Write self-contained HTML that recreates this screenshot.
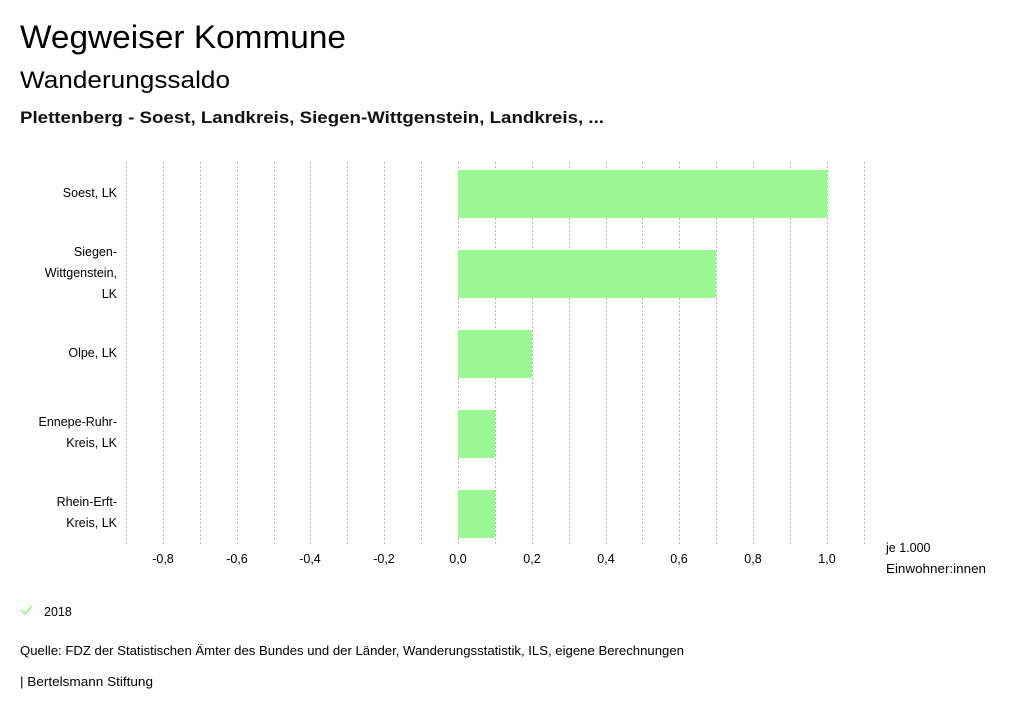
<!DOCTYPE html>
<html><head><meta charset="utf-8"><style>
body{margin:0;background:#fff;width:1024px;height:714px;overflow:hidden;font-family:"Liberation Sans","DejaVu Sans",sans-serif;color:#000}
</style></head><body>
<svg width="1024" height="714" xmlns="http://www.w3.org/2000/svg" font-family="Liberation Sans, DejaVu Sans, sans-serif">
<text x="20" y="48" font-size="32" textLength="326" lengthAdjust="spacingAndGlyphs">Wegweiser Kommune</text>
<text x="20" y="88" font-size="24" textLength="210" lengthAdjust="spacingAndGlyphs">Wanderungssaldo</text>
<text x="20" y="123" font-size="17" font-weight="bold" textLength="584" lengthAdjust="spacingAndGlyphs" fill="#111">Plettenberg - Soest, Landkreis, Siegen-Wittgenstein, Landkreis, ...</text>
<g stroke="#bbb" stroke-width="1" stroke-dasharray="2,2">
<line x1="126.5" y1="162" x2="126.5" y2="545"/>
<line x1="163.5" y1="162" x2="163.5" y2="545"/>
<line x1="200.5" y1="162" x2="200.5" y2="545"/>
<line x1="237.5" y1="162" x2="237.5" y2="545"/>
<line x1="274.5" y1="162" x2="274.5" y2="545"/>
<line x1="310.5" y1="162" x2="310.5" y2="545"/>
<line x1="347.5" y1="162" x2="347.5" y2="545"/>
<line x1="384.5" y1="162" x2="384.5" y2="545"/>
<line x1="421.5" y1="162" x2="421.5" y2="545"/>
<line x1="458.5" y1="162" x2="458.5" y2="545"/>
<line x1="495.5" y1="162" x2="495.5" y2="545"/>
<line x1="532.5" y1="162" x2="532.5" y2="545"/>
<line x1="569.5" y1="162" x2="569.5" y2="545"/>
<line x1="606.5" y1="162" x2="606.5" y2="545"/>
<line x1="642.5" y1="162" x2="642.5" y2="545"/>
<line x1="679.5" y1="162" x2="679.5" y2="545"/>
<line x1="716.5" y1="162" x2="716.5" y2="545"/>
<line x1="753.5" y1="162" x2="753.5" y2="545"/>
<line x1="790.5" y1="162" x2="790.5" y2="545"/>
<line x1="827.5" y1="162" x2="827.5" y2="545"/>
<line x1="864.5" y1="162" x2="864.5" y2="545"/>
</g>
<g fill="#9cf894">
<rect x="458" y="170" width="369" height="48"/>
<rect x="458" y="250" width="258" height="48"/>
<rect x="458" y="330" width="74" height="48"/>
<rect x="458" y="410" width="37" height="48"/>
<rect x="458" y="490" width="37" height="48"/>
</g>
<g font-size="12.5" text-anchor="end">
<text x="117" y="197">Soest, LK</text>
<text x="117" y="256">Siegen-</text>
<text x="117" y="277">Wittgenstein,</text>
<text x="117" y="298">LK</text>
<text x="117" y="357">Olpe, LK</text>
<text x="117" y="426">Ennepe-Ruhr-</text>
<text x="117" y="447">Kreis, LK</text>
<text x="117" y="506">Rhein-Erft-</text>
<text x="117" y="527">Kreis, LK</text>
</g>
<g font-size="12.5" text-anchor="middle">
<text x="163" y="563">-0,8</text>
<text x="237" y="563">-0,6</text>
<text x="310" y="563">-0,4</text>
<text x="384" y="563">-0,2</text>
<text x="458" y="563">0,0</text>
<text x="532" y="563">0,2</text>
<text x="606" y="563">0,4</text>
<text x="679" y="563">0,6</text>
<text x="753" y="563">0,8</text>
<text x="827" y="563">1,0</text>
</g>
<text x="886" y="552" font-size="12.5">je 1.000</text>
<text x="886" y="573" font-size="12.5" textLength="100" lengthAdjust="spacingAndGlyphs">Einwohner:innen</text>
<polyline points="21,610 25,614 32,606" fill="none" stroke="#9cf894" stroke-width="1.8"/>
<text x="44" y="616" font-size="12.5">2018</text>
<text x="20" y="655" font-size="12.5" textLength="664" lengthAdjust="spacingAndGlyphs">Quelle: FDZ der Statistischen Ämter des Bundes und der Länder, Wanderungsstatistik, ILS, eigene Berechnungen</text>
<text x="20" y="686" font-size="12.5" textLength="133" lengthAdjust="spacingAndGlyphs">| Bertelsmann Stiftung</text>
</svg>
</body></html>
